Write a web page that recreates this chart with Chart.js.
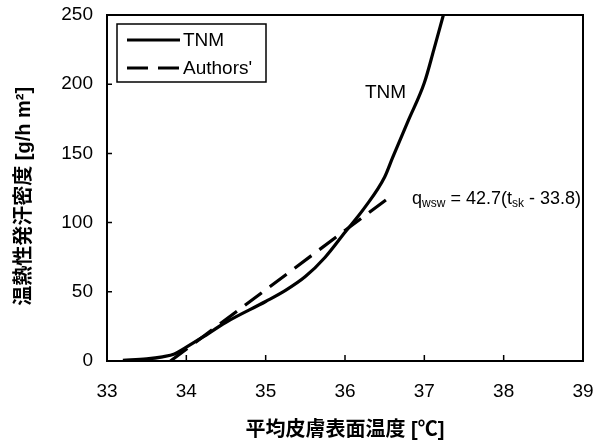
<!DOCTYPE html>
<html><head><meta charset="utf-8">
<script src="https://cdn.jsdelivr.net/npm/chart.js@4"></script>
<style>html,body{margin:0;padding:0;background:#fff}</style>
</head><body>
<canvas id="c" width="607" height="442" style="width:607px;height:442px;display:block"></canvas>
<script>
// ---- data ----
const tnmT = [33.2, 33.5, 33.7, 33.85, 34.0, 34.2, 34.5, 35.0, 35.25, 35.5, 35.75, 36.0, 36.25, 36.5, 36.6, 36.8, 37.0, 37.12, 37.24];
const tnmQ = [0.5, 1.5, 3, 5, 10, 17, 28, 43, 51, 61, 75, 93, 111, 133, 147, 174, 201, 225, 250];
const authT = [33.8, 36.6];
const authQ = [0, 120];
const xTicks = [33, 34, 35, 36, 37, 38, 39];
const yTicks = [0, 50, 100, 150, 200, 250];
const seriesLabels = ['TNM', "Authors'"];
const curveLabel = 'TNM';
const curveLabelPos = [36.51, 194];
const eqPos = [36.845, 117.5];
const eqParts = [['q', false], ['wsw', true], [' = 42.7(t', false], ['sk', true], [' - 33.8)', false]];
const xTitle = '平均皮膚表面温度 [℃]';
const yTitle = '温熱性発汗密度 [g/h m²]   ';

const FONT = "'Liberation Sans', Arial, sans-serif";

const decor = {
  id: 'decor',
  afterDatasetsDraw(chart) {
    const ctx = chart.ctx, a = chart.chartArea;
    const xs = chart.scales.x, ys = chart.scales.y;
    ctx.save();
    ctx.strokeStyle = '#000';
    ctx.lineWidth = 2;
    ctx.strokeRect(a.left, a.top, a.right - a.left, a.bottom - a.top);
    ctx.lineWidth = 1.5;
    ctx.beginPath();
    xTicks.forEach(v => { const px = xs.getPixelForValue(v); ctx.moveTo(px, a.bottom); ctx.lineTo(px, a.bottom - 6); });
    yTicks.forEach(v => { const py = ys.getPixelForValue(v); ctx.moveTo(a.left, py); ctx.lineTo(a.left + 5, py); });
    ctx.stroke();

    // legend box
    const lx = a.left + 10, ly = a.top + 9, lw = 149, lh = 58;
    ctx.lineWidth = 1.5;
    ctx.strokeRect(lx, ly, lw, lh);
    ctx.font = '19px ' + FONT;
    ctx.fillStyle = '#000';
    ctx.textBaseline = 'middle';
    ctx.textAlign = 'left';
    chart.data.datasets.forEach((ds, i) => {
      const yy = ly + 16 + i * 28;
      ctx.lineWidth = 3;
      ctx.setLineDash(ds.borderDash || []);
      ctx.beginPath(); ctx.moveTo(lx + 10, yy); ctx.lineTo(lx + 63, yy); ctx.stroke();
      ctx.setLineDash([]);
      ctx.fillText(ds.label, lx + 66, yy + 1);
    });

    // curve label
    ctx.font = '19px ' + FONT;
    ctx.textAlign = 'center';
    ctx.fillText(curveLabel, xs.getPixelForValue(curveLabelPos[0]), ys.getPixelForValue(curveLabelPos[1]));

    // equation
    ctx.textAlign = 'left';
    ctx.textBaseline = 'alphabetic';
    let px = xs.getPixelForValue(eqPos[0]);
    const base = ys.getPixelForValue(eqPos[1]) + 6;
    eqParts.forEach(([t, sub]) => {
      ctx.font = (sub ? '12px ' : '18px ') + FONT;
      ctx.fillText(t, px, sub ? base + 3 : base);
      px += ctx.measureText(t).width;
    });
    ctx.restore();
  }
};

new Chart(document.getElementById('c'), {
  type: 'line',
  data: {
    datasets: [
      { label: seriesLabels[0], data: tnmT.map((t, i) => ({ x: t, y: tnmQ[i] })), borderColor: '#000', borderWidth: 3.2, pointRadius: 0, cubicInterpolationMode: 'monotone', fill: false },
      { label: seriesLabels[1], data: authT.map((t, i) => ({ x: t, y: authQ[i] })), borderColor: '#000', borderWidth: 3.2, borderDash: [21, 10], pointRadius: 0, fill: false }
    ]
  },
  options: {
    responsive: false,
    animation: false,
    devicePixelRatio: 1,
    layout: { padding: { top: 15, right: 24, left: 0, bottom: 0 } },
    plugins: { legend: { display: false }, tooltip: { enabled: false } },
    scales: {
      x: {
        type: 'linear', min: 33, max: 39,
        afterBuildTicks: s => { s.ticks = xTicks.map(v => ({ value: v })); },
        afterFit: s => { s.height = 81; s.paddingLeft = 0; s.paddingRight = 0; },
        grid: { display: false }, border: { display: false },
        ticks: { color: '#000', font: { family: FONT, size: 19 }, padding: 11, maxRotation: 0 },
        title: { display: true, text: xTitle, color: '#000', font: { family: "'Liberation Sans', 'Noto Sans CJK JP', sans-serif", size: 20, weight: 'bold' }, padding: { top: 0, bottom: 0 } }
      },
      y: {
        min: 0, max: 250,
        afterBuildTicks: s => { s.ticks = yTicks.map(v => ({ value: v })); },
        afterFit: s => { s.width = 107; s.paddingTop = 0; s.paddingBottom = 0; },
        grid: { display: false }, border: { display: false },
        ticks: { color: '#000', font: { family: FONT, size: 19 }, padding: 6 },
        title: { display: true, text: yTitle, color: '#000', font: { family: "'Liberation Sans', 'Noto Sans CJK JP', sans-serif", size: 20, weight: 'bold' }, padding: { top: 12, bottom: 0 } }
      }
    }
  },
  plugins: [decor]
});
</script>
</body></html>
